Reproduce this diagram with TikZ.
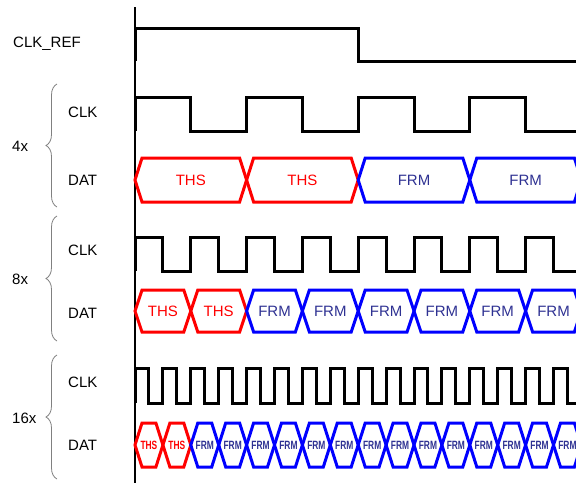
\documentclass[tikz,border=0pt]{standalone}
\usepackage{fontspec}
\setmainfont{Liberation Sans}
\usetikzlibrary{decorations.pathreplacing}
\definecolor{thsred}{RGB}{255,0,0}
\definecolor{frmblue}{RGB}{0,0,255}
\definecolor{frmtext}{RGB}{46,49,146}
\begin{document}
\begin{tikzpicture}[x=1pt,y=-1pt,
  sig/.style={line width=3pt,black},
  cell/.style={line width=3pt},
  lbl/.style={font=\fontsize{15}{15}\selectfont,anchor=base west,inner sep=0pt},
  txt/.style={font=\fontsize{15}{15}\selectfont,inner sep=0pt},
  stxt/.style={font=\fontsize{12}{12}\selectfont\bfseries,inner sep=0pt},
  brc/.style={draw=gray,line width=0.8pt,decorate,decoration={brace,amplitude=11pt}}]
\useasboundingbox (0,0) rectangle (576,483);
\clip (0,0) rectangle (576,483);

% labels
\node[lbl] (lref) at (13,47) {CLK\_REF};
\node[lbl] (l4) at (12,151) {4x};
\node[lbl] (l4c) at (68,117) {CLK};
\node[lbl] (l4d) at (68,185.5) {DAT};
\node[lbl] (l8) at (12,284) {8x};
\node[lbl] (l8c) at (68,255) {CLK};
\node[lbl] (l8d) at (68,318) {DAT};
\node[lbl] (l16) at (12,423) {16x};
\node[lbl] (l16c) at (68,387) {CLK};
\node[lbl] (l16d) at (68,450) {DAT};

% braces
\draw[brc] (57,207) -- (57,84);
\draw[brc] (57,341) -- (57,216);
\draw[brc] (57,479) -- (57,355);

% axis
\draw[line width=2.5pt] (135,7) -- (135,483);

% CLK_REF
\draw[sig] (135,61) -- (135,28) -- (358,28) -- (358,61) -- (580,61);

% clocks
\draw[sig] (135,131) \foreach \i in {1,...,4}{ -- ++(0,-34) -- ++(55.8,0) -- ++(0,34) -- ++(55.8,0)};
\draw[sig] (135,271) \foreach \i in {1,...,8}{ -- ++(0,-34) -- ++(27.9,0) -- ++(0,34) -- ++(27.9,0)};
\draw[sig] (135,403) \foreach \i in {1,...,16}{ -- ++(0,-35) -- ++(13.95,0) -- ++(0,35) -- ++(13.95,0)};

% 4x data
\foreach \i/\t/\c/\tc in {0/THS/thsred/thsred,1/THS/thsred/thsred,2/FRM/frmblue/frmtext,3/FRM/frmblue/frmtext}{
  \pgfmathsetmacro\xa{135+\i*111.6}
  \pgfmathsetmacro\xb{\xa+111.6}
  \draw[cell,\c] (\xa,180) -- (\xa+7,158) -- (\xb-7,158) -- (\xb,180) -- (\xb-7,202) -- (\xa+7,202) -- cycle;
  \node[txt,text=\tc] (d4-\i) at ({(\xa+\xb)/2},180) {\t};
}
% 8x data
\foreach \i/\t/\c/\tc in {0/THS/thsred/thsred,1/THS/thsred/thsred,2/FRM/frmblue/frmtext,3/FRM/frmblue/frmtext,4/FRM/frmblue/frmtext,5/FRM/frmblue/frmtext,6/FRM/frmblue/frmtext,7/FRM/frmblue/frmtext}{
  \pgfmathsetmacro\xa{135+\i*55.8}
  \pgfmathsetmacro\xb{\xa+55.8}
  \draw[cell,\c] (\xa,311) -- (\xa+7,290) -- (\xb-7,290) -- (\xb,311) -- (\xb-7,332) -- (\xa+7,332) -- cycle;
  \node[txt,text=\tc] (d8-\i) at ({(\xa+\xb)/2},311) {\t};
}
% 16x data
\foreach \i in {0,...,15}{
  \pgfmathsetmacro\xa{135+\i*27.9}
  \pgfmathsetmacro\xb{\xa+27.9}
  \ifnum\i<2
    \def\c{thsred}\def\tc{thsred}\def\t{THS}
  \else
    \def\c{frmblue}\def\tc{frmtext}\def\t{FRM}
  \fi
  \draw[cell,\c] (\xa,445) -- (\xa+7,423) -- (\xb-7,423) -- (\xb,445) -- (\xb-7,467) -- (\xa+7,467) -- cycle;
  \node[stxt,text=\tc] (d16-\i) at ({(\xa+\xb)/2},445) {\scalebox{0.7}[1]{\t}};
}
\end{tikzpicture}
\end{document}
